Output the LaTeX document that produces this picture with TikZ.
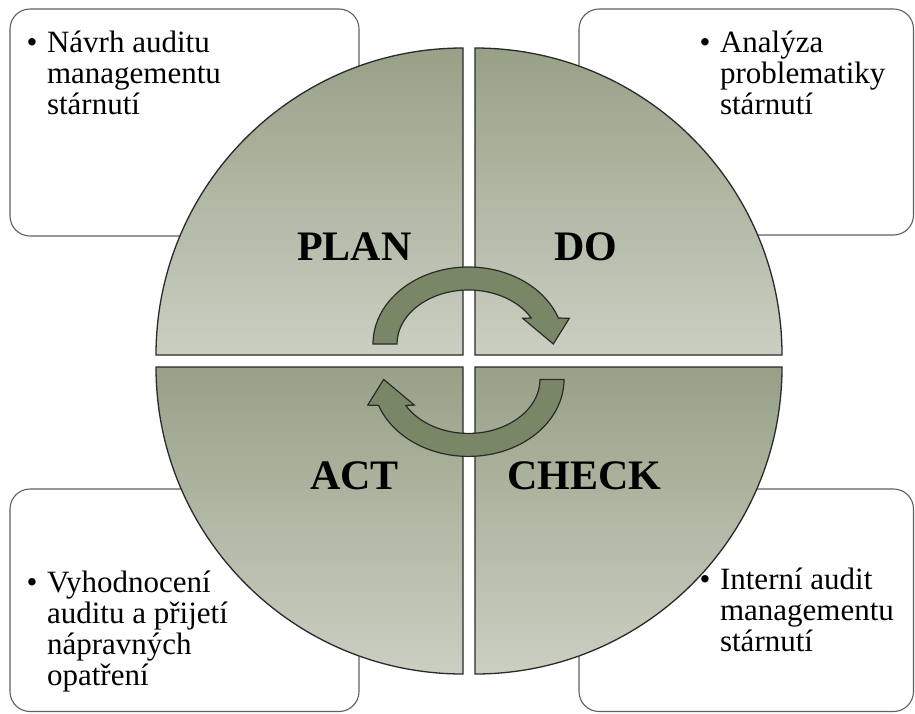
\documentclass[tikz,border=0pt]{standalone}
\usepackage{fontspec}
\setmainfont{Liberation Serif}
\definecolor{boxgray}{HTML}{606060}
\definecolor{qline}{HTML}{2A2A2A}
\definecolor{qtop}{HTML}{97A187}
\definecolor{qbot}{HTML}{CBCFC2}
\definecolor{arrowgreen}{HTML}{7A8766}
\begin{document}
\begin{tikzpicture}[x=1pt,y=-1pt,
  tbox/.style={draw=boxgray, line width=1.1pt, fill=white, rounded corners=20pt},
  quad/.style={draw=qline, line width=1.3pt, top color=qtop, bottom color=qbot},
  cyc/.style={draw=qline, line width=1.2pt, fill=arrowgreen, line join=miter},
  lbl/.style={anchor=base west, inner sep=0pt, font=\fontsize{42}{42}\selectfont\bfseries},
  btxt/.style={anchor=base west, inner sep=0pt, font=\fontsize{31}{31}\selectfont}]
\useasboundingbox (0,0) rectangle (915,713);
\fill[white] (0,0) rectangle (915,713);
% text boxes
\draw[tbox] (10,9) rectangle (359,236);
\draw[tbox] (579,9) rectangle (913.5,235);
\draw[tbox] (10,489) rectangle (359,711.5);
\draw[tbox] (579,489) rectangle (913.5,711.5);
% quadrants
\path[quad] (463,355) -- (156,355) arc[start angle=180,end angle=90,radius=307pt] -- cycle;
\path[quad] (475,355) -- (475,48) arc[start angle=90,end angle=0,radius=307pt] -- cycle;
\path[quad] (463,367) -- (463,674) arc[start angle=270,end angle=180,radius=307pt] -- cycle;
\path[quad] (475,367) -- (782,367) arc[start angle=0,end angle=-90,radius=307pt] -- cycle;
% cycle arrows
\path[cyc] (373,344) arc[start angle=180,end angle=19.73,x radius=95.5pt,y radius=77pt]
  -- (569.3,318.3) -- (553.3,344) -- (522.7,318.3) -- (531.2,318)
  arc[start angle=28.78,end angle=180,x radius=71.5pt,y radius=54pt] -- cycle;
\path[cyc] (564,379.4) arc[start angle=360,end angle=199.73,x radius=95.5pt,y radius=77pt]
  -- (367.7,405.1) -- (383.7,379.4) -- (414.3,405.1) -- (405.8,405.4)
  arc[start angle=208.78,end angle=360,x radius=71.5pt,y radius=54pt] -- cycle;
% labels
\node[lbl] (lplan) at (297,260) {PLAN};
\node[lbl] (ldo) at (554,260) {DO};
\node[lbl] (lact) at (310,489) {ACT};
\node[lbl] (lcheck) at (507,489) {CHECK};
% texts
\node[btxt] (t1) at (26.5,52) {\begin{tabular}[t]{@{}l@{\hspace{9.5pt}}l@{}}•&Návrh auditu\\&managementu\\&stárnutí\end{tabular}};
\node[btxt] (t2) at (699.5,52) {\begin{tabular}[t]{@{}l@{\hspace{9.5pt}}l@{}}•&Analýza\\&problematiky\\&stárnutí\end{tabular}};
\node[btxt] (t3) at (26.5,592) {\begin{tabular}[t]{@{}l@{\hspace{9.5pt}}l@{}}•&Vyhodnocení\\&auditu a přijetí\\&nápravných\\&opatření\end{tabular}};
\node[btxt] (t4) at (699.5,589) {\begin{tabular}[t]{@{}l@{\hspace{9.5pt}}l@{}}•&Interní audit\\&managementu\\&stárnutí\end{tabular}};
\end{tikzpicture}
\end{document}
